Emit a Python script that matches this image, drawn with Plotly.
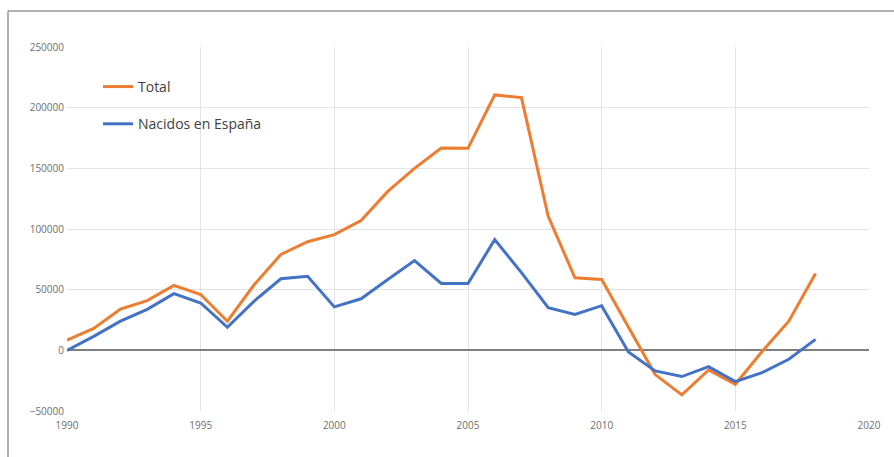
import plotly.graph_objects as go

years = list(range(1990, 2019))
total = [8500, 18000, 34000, 41000, 53500, 46000, 24000, 54000, 79000, 89500,
         95400, 107000, 131000, 150000, 166700, 166500, 210500, 208300, 110500, 59800,
         58400, 19000, -20000, -36700, -16200, -28000, -1000, 24000, 63300]
nacidos = [0, 11500, 24000, 33800, 46700, 39000, 19000, 40500, 59000, 61100,
           35800, 42500, 58400, 74000, 55100, 55100, 91300, 64000, 35100, 29600,
           36800, -1400, -17000, -21600, -13400, -25800, -18400, -7400, 9000]
series_names = ["Total", "Nacidos en España"]
series_colors = ["#ED7D31", "#4472C4"]

fig = go.Figure()
for name, vals, col in zip(series_names, [total, nacidos], series_colors):
    fig.add_trace(go.Scatter(x=years, y=vals, mode="lines", name=name,
                             legendgroup=name,
                             line=dict(color=col, width=3)))

L, R, T, B = 67, 25, 47, 46
W, H = 894, 457
pw, ph = W - L - R, H - T - B

def px(xp):
    return (xp - L) / pw

def py(yp):
    return (H - B - yp) / ph

fig.update_layout(
    width=W, height=H,
    margin=dict(l=L, r=R, t=T, b=B),
    paper_bgcolor="white", plot_bgcolor="white",
    font=dict(family="Open Sans, Noto Sans, sans-serif", color="#595959"),
    showlegend=True,
    legend=dict(x=px(98), y=py(71), xanchor="left", yanchor="top",
                bgcolor="rgba(0,0,0,0)", font=dict(size=14, color="#404040"),
                traceorder="grouped", tracegroupgap=16, itemwidth=30),
    xaxis=dict(range=[1990, 2020], dtick=5, tick0=1990, showgrid=True,
               gridcolor="#e3e3e3", gridwidth=1, zeroline=False,
               showline=False, ticks="", tickfont=dict(size=10, color="#6e6e6e"),
               ticklabelstandoff=7, fixedrange=True),
    yaxis=dict(range=[-50000, 250000], dtick=50000, showgrid=True,
               gridcolor="#e3e3e3", gridwidth=1, zeroline=True,
               zerolinecolor="#7f7f7f", zerolinewidth=2,
               tickformat="d", ticks="", tickfont=dict(size=10, color="#6e6e6e"),
               ticklabelstandoff=2, fixedrange=True),
    shapes=[
        dict(type="rect", xref="paper", yref="paper", layer="between",
             x0=px(90), x1=px(273), y0=py(158), y1=py(57),
             fillcolor="white", line=dict(width=0)),
        dict(type="line", xref="paper", yref="paper",
             x0=px(8), x1=px(W + 5), y0=py(11), y1=py(11),
             line=dict(color="#9a9a9a", width=1.5)),
        dict(type="line", xref="paper", yref="paper",
             x0=px(8), x1=px(8), y0=py(11), y1=py(H + 5),
             line=dict(color="#9a9a9a", width=1.5)),
    ],
)

fig.write_html("out.html")
